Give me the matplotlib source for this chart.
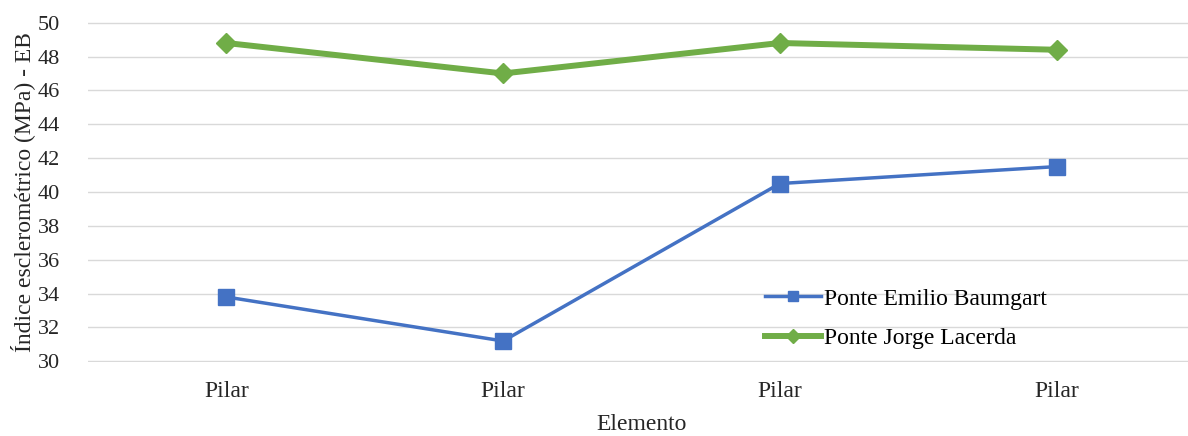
import matplotlib
matplotlib.use("Agg")
import matplotlib.pyplot as plt

categorias = ["Pilar", "Pilar", "Pilar", "Pilar"]
emilio_baumgart = [33.8, 31.2, 40.5, 41.5]
jorge_lacerda = [48.8, 47.0, 48.8, 48.4]
y_ticks = list(range(30, 51, 2))

plt.rcParams["font.family"] = ["Liberation Serif", "DejaVu Serif"]

fig = plt.figure(figsize=(11.88, 4.36), dpi=100)
ax = fig.add_axes([88 / 1188, 1 - 362 / 436, 1107 / 1188, 340 / 436])

x = list(range(len(categorias)))
ax.plot(x, emilio_baumgart, color="#4472C4", lw=2.5, marker="s", ms=11,
        label="Ponte Emilio Baumgart")
ax.plot(x, jorge_lacerda, color="#70AD47", lw=4.3, marker="D", ms=10,
        label="Ponte Jorge Lacerda")

ax.set_xlim(-0.5, 3.5)
ax.set_ylim(29.96, 50.04)
ax.set_yticks(y_ticks)
ax.set_xticks(x)
ax.set_xticklabels(categorias)
ax.tick_params(length=0, colors="#262626")
ax.tick_params(axis="x", labelsize=17, pad=14)
ax.tick_params(axis="y", labelsize=16, pad=20)
ax.grid(axis="y", color="#d9d9d9", lw=1)
ax.set_axisbelow(True)
for s in ax.spines.values():
    s.set_visible(False)

ax.set_ylabel("Índice esclerométrico (MPa) - EB", fontsize=17, color="#262626", labelpad=2)
ax.set_xlabel("Elemento", fontsize=17, color="#262626", labelpad=8)

ax.legend(loc="upper left", bbox_to_anchor=(0.592, 0.28), frameon=False,
          fontsize=17, handlelength=2.4, handletextpad=0.1, labelspacing=0.75,
          markerscale=0.7)

fig.savefig("out.png", dpi=100)
